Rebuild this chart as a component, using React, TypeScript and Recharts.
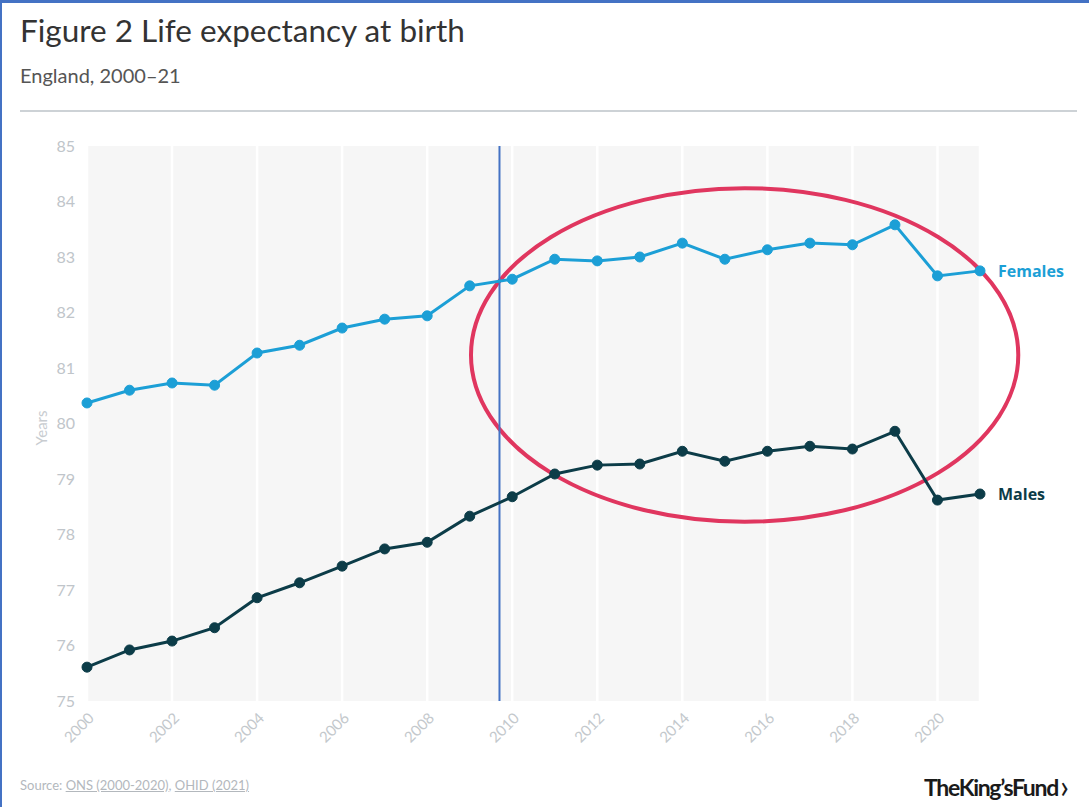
import React from "react";
import {
  LineChart,
  Line,
  XAxis,
  YAxis,
  CartesianGrid,
  ReferenceLine,
  ReferenceArea,
} from "recharts";

const years = [
  2000, 2001, 2002, 2003, 2004, 2005, 2006, 2007, 2008, 2009, 2010, 2011,
  2012, 2013, 2014, 2015, 2016, 2017, 2018, 2019, 2020, 2021,
];
const females = [
  80.37, 80.6, 80.73, 80.69, 81.27, 81.41, 81.72, 81.88, 81.94, 82.48, 82.6,
  82.96, 82.93, 83.0, 83.25, 82.96, 83.13, 83.25, 83.22, 83.58, 82.66, 82.75,
];
const males = [
  75.61, 75.92, 76.08, 76.32, 76.86, 77.13, 77.43, 77.74, 77.86, 78.33, 78.68,
  79.09, 79.25, 79.27, 79.5, 79.32, 79.5, 79.59, 79.54, 79.86, 78.62, 78.73,
];
const xTicks = [2000, 2002, 2004, 2006, 2008, 2010, 2012, 2014, 2016, 2018, 2020];
const yTicks = [75, 76, 77, 78, 79, 80, 81, 82, 83, 84, 85];
const seriesNames = ["Females", "Males"];

const data = years.map((y, i) => ({ year: y, females: females[i], males: males[i] }));

const FEMALE = "#1c9fd6";
const MALE = "#0c3c48";
const FONT = "Lato, 'Open Sans', sans-serif";
const LABEL_FONT = "'Open Sans', 'Noto Sans', sans-serif";

const XTick = (props: any) => {
  const { x, y, payload } = props;
  const tx = x + 8;
  const ty = y + 10;
  return (
    <text
      x={tx}
      y={ty}
      transform={`rotate(-45, ${tx}, ${ty})`}
      textAnchor="end"
      fill="#c3c8cc"
      fontSize={15}
      fontFamily={FONT}
    >
      {payload.value}
    </text>
  );
};

const endLabel = (name: string, color: string) => (props: any) => {
  const { x, y, index } = props;
  if (index !== years.length - 1) return null;
  return (
    <text
      x={x + 18}
      y={y + 6}
      fill={color}
      fontSize={16}
      fontWeight={700}
      fontFamily={LABEL_FONT}
    >
      {name}
    </text>
  );
};

const EllipseShape = (props: any) => {
  const { x, y, width, height } = props;
  return (
    <ellipse
      cx={x + width / 2}
      cy={y + height / 2}
      rx={width / 2}
      ry={height / 2}
      fill="none"
      stroke="#e0365f"
      strokeWidth={4}
    />
  );
};

export default function App() {
  return (
    <div
      style={{
        position: "absolute",
        left: 0,
        top: 0,
        width: 1089,
        height: 807,
        background: "#fff",
        overflow: "hidden",
        fontFamily: FONT,
      }}
    >
      <div style={{ position: "absolute", left: 0, top: 0, width: 1089, height: 3, background: "#4472c4" }} />
      <div style={{ position: "absolute", left: 0, top: 0, width: 2, height: 807, background: "#4472c4" }} />
      <div
        style={{
          position: "absolute",
          left: 20,
          top: 11,
          fontSize: 31.5,
          color: "#333",
          whiteSpace: "nowrap",
        }}
      >
        Figure 2 Life expectancy at birth
      </div>
      <div
        style={{
          position: "absolute",
          left: 20,
          top: 63,
          fontSize: 20,
          color: "#555",
          whiteSpace: "nowrap",
        }}
      >
        England, 2000–21
      </div>
      <div style={{ position: "absolute", left: 20, top: 110, width: 1057, height: 2, background: "#cdd2d6" }} />

      <div style={{ position: "absolute", left: 0, top: 0 }}>
        <LineChart
          width={1089}
          height={807}
          data={data}
          margin={{ top: 146, left: 47, right: 109, bottom: 46 }}
        >
          <CartesianGrid horizontal={false} stroke="#ffffff" strokeWidth={2.5} fill="#f6f6f6" />
          <XAxis
            dataKey="year"
            type="number"
            domain={[2000, 2021]}
            ticks={xTicks}
            interval={0}
            axisLine={false}
            tickLine={false}
            height={60}
            tick={<XTick />}
          />
          <YAxis
            type="number"
            domain={[75, 85]}
            ticks={yTicks}
            interval={0}
            axisLine={false}
            tickLine={false}
            width={40}
            tickMargin={6}
            tick={{ fill: "#c0c5ca", fontSize: 16, fontFamily: FONT }}
            label={{
              value: "Years",
              angle: -90,
              position: "insideLeft",
              dx: -10,
              dy: 22,
              fill: "#c8ccd0",
              fontSize: 15,
              fontFamily: FONT,
            }}
          />
          <ReferenceLine x={2009.7} stroke="#4472c4" strokeWidth={2} />
          <Line
            dataKey="females"
            name={seriesNames[0]}
            stroke={FEMALE}
            strokeWidth={3}
            dot={{ r: 5, fill: FEMALE, stroke: FEMALE, strokeWidth: 1 }}
            isAnimationActive={false}
            label={endLabel(seriesNames[0], FEMALE)}
          />
          <Line
            dataKey="males"
            name={seriesNames[1]}
            stroke={MALE}
            strokeWidth={3}
            dot={{ r: 5, fill: MALE, stroke: MALE, strokeWidth: 1 }}
            isAnimationActive={false}
            label={endLabel(seriesNames[1], MALE)}
          />
          <ReferenceArea
            x1={2009.03}
            x2={2021.9}
            y1={78.23}
            y2={84.24}
            ifOverflow="visible"
            shape={(p: any) => <EllipseShape {...p} />}
          />
        </LineChart>
      </div>

      <div
        style={{
          position: "absolute",
          left: 20,
          top: 777,
          fontSize: 13,
          color: "#b3b8bd",
          whiteSpace: "nowrap",
        }}
      >
        Source: <span style={{ textDecoration: "underline" }}>ONS (2000-2020)</span>,{" "}
        <span style={{ textDecoration: "underline" }}>OHID (2021)</span>
      </div>
      <div
        style={{
          position: "absolute",
          left: 924,
          top: 764,
          fontSize: 23,
          fontWeight: 700,
          color: "#1a1a1a",
          letterSpacing: -1.3,
          whiteSpace: "nowrap",
        }}
      >
        TheKing’sFund
        <span style={{ fontWeight: 400, fontSize: 32, marginLeft: 2, position: "relative", top: 2 }}>›</span>
      </div>
    </div>
  );
}
